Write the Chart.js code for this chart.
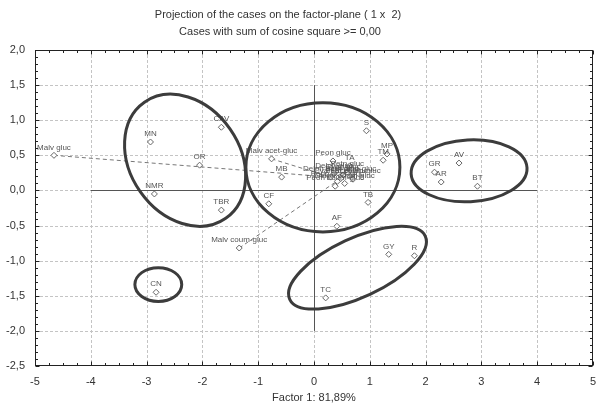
<!DOCTYPE html>
<html lang="en">
<head>
  <meta charset="UTF-8">
  <title>Projection of the cases on the factor-plane</title>
  <script src="https://cdn.jsdelivr.net/npm/chart.js"></script>
  <style>
    html, body { margin: 0; padding: 0; background: #fff; }
    #wrap { width: 605px; height: 407px; position: relative; }
  </style>
</head>
<body>
  <div id="wrap"><canvas id="factorChart"></canvas></div>

  <script>
    // case names and coordinates on factor 1 / factor 2
    const caseNames = ['Malv gluc', 'MN', 'OR', 'NMR', 'CAV', 'Malv acet-gluc', 'MB', 'TBR', 'CF', 'Malv coum-gluc',
      'CN', 'S', 'MP', 'TM', 'Peon gluc', 'TA', 'TB', 'AF', 'GY', 'R', 'TC', 'GR', 'AR', 'AV', 'BT',
      'Delph gluc', 'Cyan gluc', 'Petn gluc', 'Delph acet-gluc', 'Cyan acet-gluc', 'Petn acet-gluc',
      'Peon acet-gluc', 'Delph coum-gluc', 'Petn coum-gluc', 'Peon coum-gluc'];
    const factor1 = [-4.66, -2.93, -2.05, -2.86, -1.66, -0.76, -0.58, -1.66, -0.81, -1.34,
      -2.83, 0.94, 1.31, 1.24, 0.34, 0.64, 0.97, 0.41, 1.34, 1.80, 0.21, 2.16, 2.28, 2.60, 2.93,
      0.36, 0.52, 0.60, 0.30, 0.48, 0.66, 0.42, 0.55, 0.70, 0.38];
    const factor2 = [0.50, 0.69, 0.36, -0.05, 0.90, 0.45, 0.19, -0.28, -0.19, -0.82,
      -1.45, 0.85, 0.52, 0.43, 0.42, 0.35, -0.17, -0.51, -0.91, -0.93, -1.53, 0.26, 0.12, 0.39, 0.06,
      0.24, 0.22, 0.26, 0.19, 0.17, 0.20, 0.13, 0.10, 0.16, 0.06];

    // dashed links between cases
    const links = [['Malv gluc', 'Delph acet-gluc'], ['Malv acet-gluc', 'Delph acet-gluc'], ['Malv coum-gluc', 'Cyan acet-gluc']];

    // groups circled by hand: centre (factor units), radii (factor units), tilt in degrees
    const groupCx = [-2.31, 0.16, 2.78, 0.78, -2.79];
    const groupCy = [0.43, 0.33, 0.28, -1.10, -1.34];
    const groupRx = [1.27, 1.38, 1.04, 1.34, 0.42];
    const groupRy = [0.78, 0.92, 0.44, 0.42, 0.24];
    const groupTilt = [55, 0, -3, -25, 0];

    const xTickStep = 1, yTickStep = 0.5;
    const xMinorStep = 0.25, yMinorStep = 0.1;

    const points = caseNames.map((n, i) => ({ x: factor1[i], y: factor2[i] }));
    const byName = n => points[caseNames.indexOf(n)];

    const linkSets = links.map(l => ({
      type: 'line',
      data: [byName(l[0]), byName(l[1])],
      borderColor: '#777',
      borderWidth: 1,
      borderDash: [4, 3],
      pointRadius: 0,
      fill: false
    }));

    const comma = (v, d) => v.toFixed(d).replace('.', ',');

    const framePlugin = {
      id: 'frame',
      beforeDatasetsDraw(chart) {
        const { ctx, chartArea: a, scales: { x, y } } = chart;
        ctx.save();
        // grid
        ctx.strokeStyle = '#c4c4c4';
        ctx.lineWidth = 1;
        ctx.setLineDash([3, 2]);
        for (let v = -4; v <= 4; v += xTickStep) {
          const px = Math.round(x.getPixelForValue(v)) + 0.5;
          ctx.beginPath(); ctx.moveTo(px, a.top); ctx.lineTo(px, a.bottom); ctx.stroke();
        }
        for (let v = -2; v <= 1.5; v += yTickStep) {
          const py = Math.round(y.getPixelForValue(v)) + 0.5;
          ctx.beginPath(); ctx.moveTo(a.left, py); ctx.lineTo(a.right, py); ctx.stroke();
        }
        ctx.setLineDash([]);
        // zero reference lines
        ctx.strokeStyle = '#555';
        const x0 = Math.round(x.getPixelForValue(0)) + 0.5;
        const y0 = Math.round(y.getPixelForValue(0)) + 0.5;
        ctx.beginPath(); ctx.moveTo(x0, y.getPixelForValue(1.5)); ctx.lineTo(x0, y.getPixelForValue(-2)); ctx.stroke();
        ctx.beginPath(); ctx.moveTo(x.getPixelForValue(-4), y0); ctx.lineTo(x.getPixelForValue(4), y0); ctx.stroke();
        ctx.restore();
      },
      afterDatasetsDraw(chart) {
        const { ctx, chartArea: a, scales: { x, y } } = chart;
        ctx.save();
        // case labels
        const meta = chart.getDatasetMeta(0);
        ctx.font = '8px "Liberation Sans", Arial, sans-serif';
        ctx.fillStyle = '#555';
        ctx.textAlign = 'center';
        ctx.textBaseline = 'bottom';
        meta.data.forEach((el, i) => ctx.fillText(caseNames[i], el.x, el.y - 4));
        // hand drawn groups
        ctx.strokeStyle = '#3c3c3c';
        ctx.lineWidth = 3;
        const ux = x.getPixelForValue(1) - x.getPixelForValue(0);
        const uy = y.getPixelForValue(0) - y.getPixelForValue(1);
        groupCx.forEach((cx, i) => {
          ctx.beginPath();
          ctx.ellipse(x.getPixelForValue(cx), y.getPixelForValue(groupCy[i]),
            groupRx[i] * ux, groupRy[i] * uy, groupTilt[i] * Math.PI / 180, 0, Math.PI * 2);
          ctx.stroke();
        });
        // frame and ticks
        ctx.strokeStyle = '#222';
        ctx.lineWidth = 1;
        const L = Math.round(a.left) + 0.5, R = Math.round(a.right) - 0.5;
        const T = Math.round(a.top) + 0.5, B = Math.round(a.bottom) - 0.5;
        ctx.strokeRect(L, T, R - L, B - T);
        ctx.beginPath();
        for (let k = 0; k <= 40; k++) {
          const v = -5 + k * xMinorStep;
          const px = Math.round(x.getPixelForValue(v)) + 0.5;
          const len = k % 4 === 0 ? 4 : 2.5;
          ctx.moveTo(px, B); ctx.lineTo(px, B - len);
          ctx.moveTo(px, T); ctx.lineTo(px, T + len);
        }
        for (let k = 0; k <= 45; k++) {
          const v = -2.5 + k * yMinorStep;
          const py = Math.round(y.getPixelForValue(v)) + 0.5;
          const len = k % 5 === 0 ? 4 : 2.5;
          ctx.moveTo(L, py); ctx.lineTo(L + len, py);
          ctx.moveTo(R, py); ctx.lineTo(R - len, py);
        }
        ctx.stroke();
        ctx.restore();
      },
      afterDraw(chart) {
        const { ctx } = chart;
        ctx.save();
        ctx.font = '11px "Liberation Sans", Arial, sans-serif';
        ctx.fillStyle = '#333';
        ctx.textAlign = 'center';
        ctx.textBaseline = 'middle';
        ctx.fillText('Projection of the cases on the factor-plane ( 1 x  2)', 278, 15);
        ctx.fillText('Cases with sum of cosine square >= 0,00', 280, 32);
        ctx.restore();
      }
    };

    new Chart(document.getElementById('factorChart'), {
      type: 'scatter',
      data: {
        datasets: [{
          data: points,
          pointStyle: 'rectRot',
          pointRadius: 3,
          pointBackgroundColor: '#fff',
          pointBorderColor: '#666',
          pointBorderWidth: 1
        }, ...linkSets]
      },
      options: {
        responsive: true,
        maintainAspectRatio: false,
        animation: false,
        events: [],
        layout: { padding: { top: 50, right: 4, left: 0, bottom: 0 } },
        plugins: { legend: { display: false }, tooltip: { enabled: false } },
        scales: {
          x: {
            type: 'linear', min: -5, max: 5,
            grid: { display: false, drawTicks: false },
            border: { display: false },
            afterFit: s => { s.height = 41; },
            ticks: {
              stepSize: xTickStep, padding: 9, color: '#333',
              font: { family: '"Liberation Sans", Arial, sans-serif', size: 11 },
              callback: v => String(v)
            },
            title: {
              display: true, text: 'Factor 1: 81,89%', color: '#333',
              font: { family: '"Liberation Sans", Arial, sans-serif', size: 11 },
              padding: { top: 4, bottom: 2 }
            }
          },
          y: {
            type: 'linear', min: -2.5, max: 2,
            grid: { display: false, drawTicks: false },
            border: { display: false },
            afterFit: s => { s.width = 35; },
            ticks: {
              stepSize: yTickStep, padding: 10, color: '#333',
              font: { family: '"Liberation Sans", Arial, sans-serif', size: 11 },
              callback: v => comma(v, 1)
            }
          }
        }
      },
      plugins: [framePlugin]
    });
  </script>
</body>
</html>
